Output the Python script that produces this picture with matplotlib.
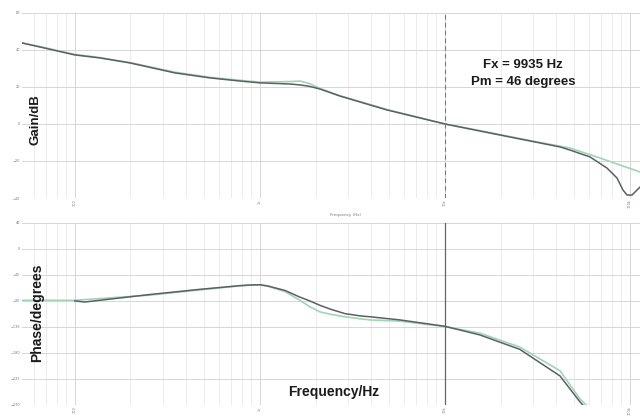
import numpy as np
import matplotlib
matplotlib.use('Agg')
import matplotlib.pyplot as plt
from matplotlib.ticker import LogLocator, NullFormatter, FixedLocator

# gain, measured (dark) and model (green)
f_gain_meas = [51.7, 64.7, 100, 136, 198, 347, 536, 780, 1000, 1452, 1646, 1860, 2109, 2705,
               4854, 10000, 15460, 25400, 41850, 47430, 60800, 75100, 85100, 91700, 96400,
               102600, 109100, 113300]
gain_meas = [43.8, 41.6, 37.3, 35.7, 33.0, 27.6, 24.9, 23.2, 22.2, 21.6, 21.1, 20.3, 18.9, 15.1,
             7.6, 0.0, -3.8, -8.1, -12.4, -14.1, -17.8, -23.8, -29.2, -35.7, -38.4,
             -38.4, -35.7, -34.1]
f_gain_model = [51.7, 64.7, 100, 136, 198, 347, 536, 780, 1000, 1452, 1646, 1860, 2109, 2705,
                4854, 10000, 15460, 25400, 41850, 47430, 68900, 113300]
gain_model = [43.8, 41.8, 37.6, 35.9, 33.2, 28.0, 25.2, 23.6, 22.6, 22.9, 23.2, 21.8, 19.2, 15.3,
              7.8, 0.0, -3.6, -7.9, -12.0, -13.0, -18.4, -25.9]

# phase
f_phase_meas = [100, 113, 254, 474, 780, 883, 1000, 1100, 1370, 1646, 1860, 2109, 2390, 2877,
                3480, 3934, 5718, 10000, 15460, 25400, 41850, 53700, 60800]
phase_meas = [-90, -92, -79, -70, -63.6, -62.5, -62, -64, -72, -83.5, -90, -97.6, -104, -112,
              -116, -117.5, -123, -134, -149, -174, -220, -265, -284]
f_phase_model = [51.7, 100, 254, 474, 780, 883, 1000, 1100, 1370, 1646, 1860, 2109, 2390, 2877,
                 3480, 3934, 5718, 10000, 15460, 25400, 41850, 53700, 60800]
phase_model = [-89, -89, -80, -71, -64, -62.8, -62.5, -64.5, -74, -89, -100, -109, -113, -117.5,
               -121, -123, -125, -134.6, -146, -170, -211, -260, -277]

fx = 10000
decades = [100, 1000, 10000, 100000]
decade_labels = ['100', '1k', '10k', '100k']
gain_ticks = [60, 40, 20, 0, -20, -40]
phase_ticks = [45, 0, -45, -90, -135, -180, -225, -270]

dark = '#5b6064'
green = '#9fd6b1'
bold = dict(family='Liberation Sans', weight='bold', color='#1a1a1a')

fig = plt.figure(figsize=(6.4, 4.16), dpi=100)
ax1 = fig.add_axes([0.034, 0.524, 0.966, 0.445])
ax2 = fig.add_axes([0.034, 0.027, 0.966, 0.437])

for ax in (ax1, ax2):
    ax.set_xscale('log')
    ax.set_xlim(51.7, 113300)
    ax.xaxis.set_major_locator(FixedLocator(decades))
    ax.set_xticklabels(decade_labels, rotation=90, fontsize=2.5, color='#777777')
    ax.xaxis.set_minor_locator(LogLocator(base=10, subs=np.arange(2, 10)))
    ax.xaxis.set_minor_formatter(NullFormatter())
    ax.grid(True, which='major', color='#d6d6d6', lw=0.7)
    ax.grid(True, which='minor', axis='x', color='#e9e9e9', lw=0.6)
    ax.tick_params(which='both', length=0, pad=1.0, labelsize=2.5, labelcolor='#777777')
    for s in ax.spines.values():
        s.set_visible(False)
    ax.set_axisbelow(True)

ax1.plot(f_gain_model, gain_model, color=green, lw=1.2)
ax1.plot(f_gain_meas, gain_meas, color=dark, lw=1.1)
ax1.axvline(fx, color='#777777', lw=0.8, ls=(0, (4, 3)))
ax1.set_ylim(-40, 60)
ax1.set_yticks(gain_ticks)

ax2.plot(f_phase_model, phase_model, color=green, lw=1.2)
ax2.plot(f_phase_meas, phase_meas, color=dark, lw=1.1)
ax2.axvline(fx, color='#666666', lw=0.9)
ax2.set_ylim(-270, 45)
ax2.set_yticks(phase_ticks)

fig.text(0.055, 0.712, 'Gain/dB', rotation=90, ha='center', va='center', fontsize=9.5, **bold)
fig.text(0.058, 0.248, 'Phase/degrees', rotation=90, ha='center', va='center', fontsize=10, **bold)
fig.text(0.522, 0.058, 'Frequency/Hz', ha='center', va='center', fontsize=10, **bold)
fig.text(0.817, 0.843, 'Fx = 9935 Hz', ha='center', va='center', fontsize=9.5, **bold)
fig.text(0.817, 0.802, 'Pm = 46 degrees', ha='center', va='center', fontsize=9.5, **bold)
fig.text(0.54, 0.483, 'Frequency (Hz)', ha='center', va='center', fontsize=3, color='#777777')

fig.savefig('out.png', dpi=100)
